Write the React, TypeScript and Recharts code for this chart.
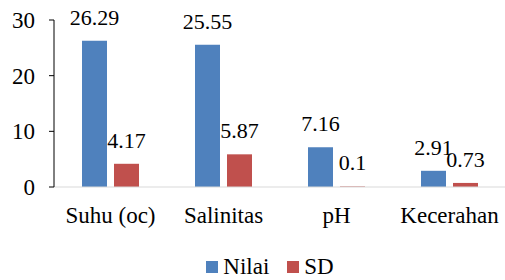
import React from 'react'
import { BarChart, Bar, XAxis, YAxis, Legend, LabelList } from 'recharts'

const categories = ['Suhu (oc)', 'Salinitas', 'pH', 'Kecerahan']
const nilai = [26.29, 25.55, 7.16, 2.91]
const sd = [4.17, 5.87, 0.1, 0.73]
const yTicks = [0, 10, 20, 30]

const data = categories.map((name, i) => ({ name, Nilai: nilai[i], SD: sd[i] }))

const FONT = 'Liberation Serif, Tinos, Times New Roman, DejaVu Serif, serif'

function LegendBox({ payload }: any) {
  return (
    <div
      style={{
        display: 'flex',
        justifyContent: 'center',
        paddingLeft: 34,
        paddingTop: 10,
        fontFamily: FONT,
        fontSize: 23,
        lineHeight: '26px',
        color: '#000'
      }}
    >
      {(payload || []).map((p: any, i: number) => (
        <div key={p.value} style={{ display: 'flex', alignItems: 'center', marginLeft: i ? 18 : 0 }}>
          <span style={{ width: 12, height: 12, background: p.color, marginRight: 5, display: 'inline-block' }} />
          <span>{p.value}</span>
        </div>
      ))}
    </div>
  )
}

export default function App() {
  return (
    <div style={{ position: 'absolute', left: 0, top: 0, background: '#fff', fontFamily: FONT }}>
      <BarChart
        width={505}
        height={280}
        data={data}
        margin={{ top: 20, right: -1, bottom: 0, left: 0 }}
        barGap={7}
        barSize={25}
        style={{ fontFamily: FONT }}
      >
        <XAxis
          dataKey="name"
          axisLine={{ stroke: '#d9d9d9' }}
          tickLine={false}
          tickSize={0}
          tickMargin={20}
          height={57}
          interval={0}
          tick={{ fill: '#000', fontSize: 23, fontFamily: FONT }}
        />
        <YAxis
          domain={[0, 30]}
          ticks={yTicks}
          width={54}
          axisLine={{ stroke: '#000' }}
          tickLine={{ stroke: '#000' }}
          tickSize={5}
          tickMargin={14}
          tick={{ fill: '#000', fontSize: 23, fontFamily: FONT }}
        />
        <Legend verticalAlign="bottom" height={36} content={<LegendBox />} />
        <Bar dataKey="Nilai" fill="#4F81BD" isAnimationActive={false}>
          <LabelList dataKey="Nilai" position="top" offset={16} fill="#000" fontSize={22} fontFamily={FONT} />
        </Bar>
        <Bar dataKey="SD" fill="#C0504D" isAnimationActive={false}>
          <LabelList dataKey="SD" position="top" offset={16} fill="#000" fontSize={22} fontFamily={FONT} />
        </Bar>
      </BarChart>
    </div>
  )
}
